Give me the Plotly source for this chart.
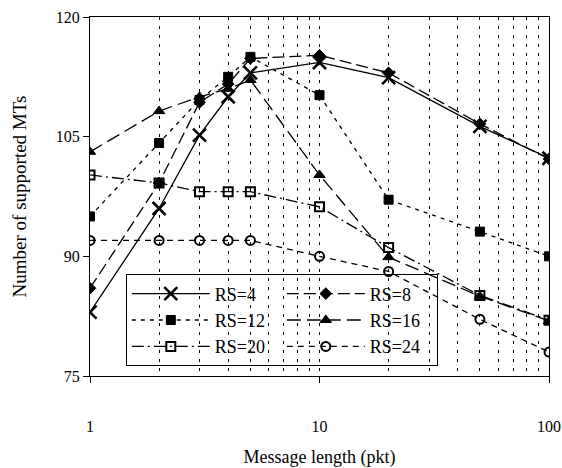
import plotly.graph_objects as go

msg_len = [1, 2, 3, 4, 5, 10, 20, 50, 100]
rs4 = [83, 96, 105.2, 110, 113, 114.3, 112.4, 106.3, 102.3]
rs8 = [86, 99.2, 109.3, 111.6, 114.8, 115.2, 113, 106.6, 102.2]
rs12 = [95, 104.2, 109.6, 112.5, 115, 110.2, 97.1, 93.1, 90]
rs16 = [103.1, 108.2, 110, 111, 112.1, 100.2, 89.9, 85, 81.9]
rs20 = [100.2, 99.2, 98.1, 98.1, 98.1, 96.2, 91.1, 85.1, 82]
rs24 = [92, 92, 92, 92, 92, 90, 88.1, 82.1, 78]

x_major = [1, 10, 100]
x_grid = [2, 3, 4, 5, 6, 7, 8, 9, 20, 30, 40, 50, 60, 70, 80, 90]
y_ticks = [75, 90, 105, 120]

series = [
    ("RS=4", rs4, "solid", "x-thin", 13, 2.6),
    ("RS=8", rs8, "12px,5px", "diamond", 9, 1),
    ("RS=12", rs12, "4px,5px", "square", 9, 1),
    ("RS=16", rs16, "14px,6px", "triangle-up", 10, 1),
    ("RS=20", rs20, "12px,4px,2px,4px", "square-open", 9, 2),
    ("RS=24", rs24, "6px,5px", "circle-open", 9, 2),
]

FONT = "Liberation Serif, Times New Roman, serif"

fig = go.Figure()
for name, ys, dash, sym, size, lw in series:
    fig.add_trace(go.Scatter(
        x=msg_len, y=ys, name=name, mode="lines+markers",
        line=dict(color="black", width=1.3, dash=dash),
        marker=dict(symbol=sym, size=size, color="black",
                    line=dict(color="black", width=lw)),
    ))

fig.update_layout(
    width=562, height=468,
    margin=dict(l=90, r=13, t=17, b=92),
    paper_bgcolor="white", plot_bgcolor="white",
    font=dict(family=FONT, color="black", size=16),
    showlegend=True,
    legend=dict(
        orientation="h", x=0.078, y=0.283, xanchor="left", yanchor="top",
        entrywidth=62, entrywidthmode="pixels",
        bgcolor="rgba(0,0,0,0)", bordercolor="black", borderwidth=1,
        font=dict(family=FONT, size=18, color="black"),
        itemwidth=78,
    ),
    xaxis=dict(
        type="log", range=[0, 2], automargin=False,
        tickmode="array", tickvals=x_major, ticktext=["1", "10", "100"],
        ticks="outside", ticklen=6, tickcolor="black",
        ticklabelstandoff=30,
        showline=True, linecolor="black", linewidth=1, mirror=True,
        showgrid=True, gridcolor="black", gridwidth=1, griddash="3px,6px",
        minor=dict(tickmode="array", tickvals=x_grid, showgrid=True,
                   gridcolor="black", gridwidth=1, griddash="3px,6px", ticks=""),
        title=dict(text="Message length (pkt)", font=dict(size=18), standoff=17),
        zeroline=False,
    ),
    yaxis=dict(
        range=[75, 120], automargin=False,
        tickmode="array", tickvals=y_ticks,
        ticks="outside", ticklen=6, tickcolor="black",
        showline=True, linecolor="black", linewidth=1, mirror=True,
        showgrid=False, zeroline=False,
        title=dict(text="Number of supported MTs", font=dict(size=19), standoff=24),
    ),
)

fig.write_html("out.html")
